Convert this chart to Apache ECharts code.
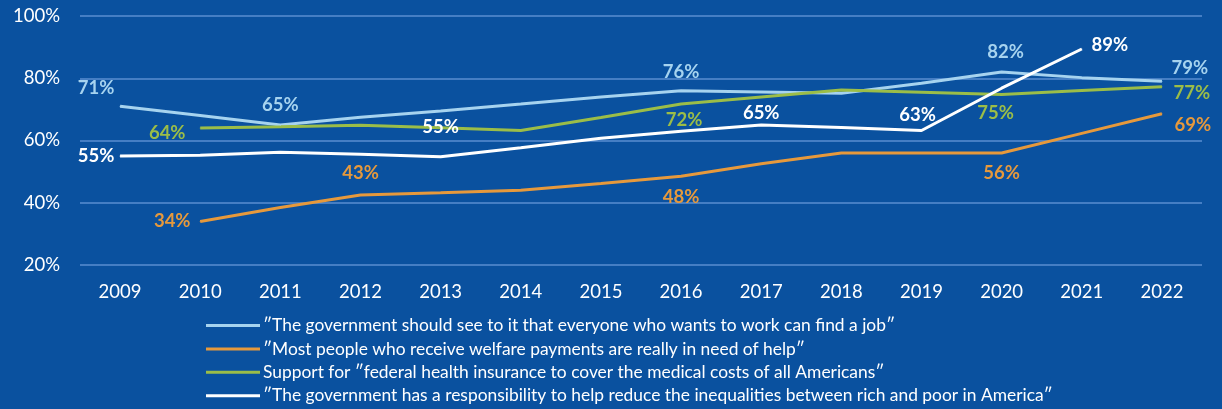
<!DOCTYPE html>
<html>
<head>
<meta charset="utf-8">
<script src="https://cdn.jsdelivr.net/npm/echarts@6/dist/echarts.min.js"></script>
<style>
html, body { margin: 0; padding: 0; background: #0a519f; }
#chart { width: 1222px; height: 409px; }
</style>
</head>
<body>
<div id="chart"></div>
<script>
var years = ["2009", "2010", "2011", "2012", "2013", "2014", "2015", "2016", "2017", "2018", "2019", "2020", "2021", "2022"]
var yTicks = [20, 40, 60, 80, 100]
var names = [
    "″The government should see to it that everyone who wants to work can find a job″",
    "″Most people who receive welfare payments are really in need of help″",
    "Support for ″federal health insurance to cover the medical costs of all Americans″",
    "″The government has a responsibility to help reduce the inequalities between rich and poor in America″",
]
var jobs = [71, 68, 65, 67.5, 69.5, 71.7, 74, 76, 75.6, 75.2, 78.4, 82, 80.2, 79]
var welfare = [null, 34, 38.5, 42.5, 43.2, 44, 46.2, 48.5, 52.5, 56, 56, 56, 62.3, 68.6]
var health = [null, 64, 64.4, 64.9, 64.1, 63.2, 67.4, 71.7, 74, 76.2, 75.5, 74.8, 76.1, 77.3]
var inequality = [55, 55.3, 56.2, 55.6, 54.8, 57.7, 60.7, 63, 65, 64.2, 63.2, 76.8, 89.4, null]
var labelText = {
    0: {0: "71%", 2: "65%", 7: "76%", 11: "82%", 13: "79%"},
    1: {1: "34%", 3: "43%", 7: "48%", 11: "56%", 13: "69%"},
    2: {1: "64%", 7: "72%", 11: "75%", 13: "77%"},
    3: {0: "55%", 4: "55%", 8: "65%", 10: "63%", 12: "89%"},
}

// label placement, offset of the label centre from the point
var labelOffset = {
    0: {0: [-24, -18], 2: [0, -20], 7: [0, -19], 11: [4, -20], 13: [28, -13]},
    1: {1: [-28, 0], 3: [0, -22], 7: [0, 21], 11: [0, 20], 13: [31, 11]},
    2: {1: [-33, 5], 7: [3, 16], 11: [-6, 19], 13: [30, 6]},
    3: {0: [-24, 0], 4: [0, -30], 8: [0, -12], 10: [-4, -16], 12: [28, -4]},
}
var colors = ["#a6d3ef", "#e6993c", "#9bbd48", "#ffffff"]
var font = "Lato, 'Open Sans', sans-serif"

function build(i, values) {
    return {name: names[i], type: "line", color: colors[i], connectNulls: true, symbol: "circle", symbolSize: 1,
        lineStyle: {width: 3, color: colors[i]}, itemStyle: {color: colors[i]}, z: i == 3? 5: 2,
        data: values.map(function(v, j) {
            var t = labelText[i][j]; if (!t) { return v }
            return {value: v, label: {show: true, position: "inside", offset: labelOffset[i][j], formatter: t,
                color: colors[i], fontFamily: font, fontWeight: "bold", fontSize: 18.5}}
        }),
    }
}

var chart = echarts.init(document.getElementById("chart"))
chart.setOption({backgroundColor: "#0a519f", animation: false,
    grid: {left: 80, right: 20, top: 16, bottom: 144},
    legend: {orient: "vertical", left: 206, top: 317, padding: 0, itemWidth: 54, itemHeight: 3, itemGap: 6.4, icon: "rect",
        textStyle: {color: "#ffffff", fontFamily: font, fontSize: 17.4, lineHeight: 17, padding: [0, 0, 0, -2]}, data: names},
    xAxis: {type: "category", data: years, boundaryGap: true, axisLine: {show: false}, axisTick: {show: false},
        axisLabel: {color: "#ffffff", fontFamily: font, fontSize: 18.5, margin: 18}},
    yAxis: {type: "value", min: yTicks[0], max: yTicks[yTicks.length-1], interval: 20,
        axisLabel: {color: "#ffffff", fontFamily: font, fontSize: 18.5, margin: 20, formatter: "{value}%"},
        splitLine: {lineStyle: {color: "#5a8ed0", width: 1.5}}},
    series: [build(0, jobs), build(1, welfare), build(2, health), build(3, inequality)],
})
</script>
</body>
</html>
